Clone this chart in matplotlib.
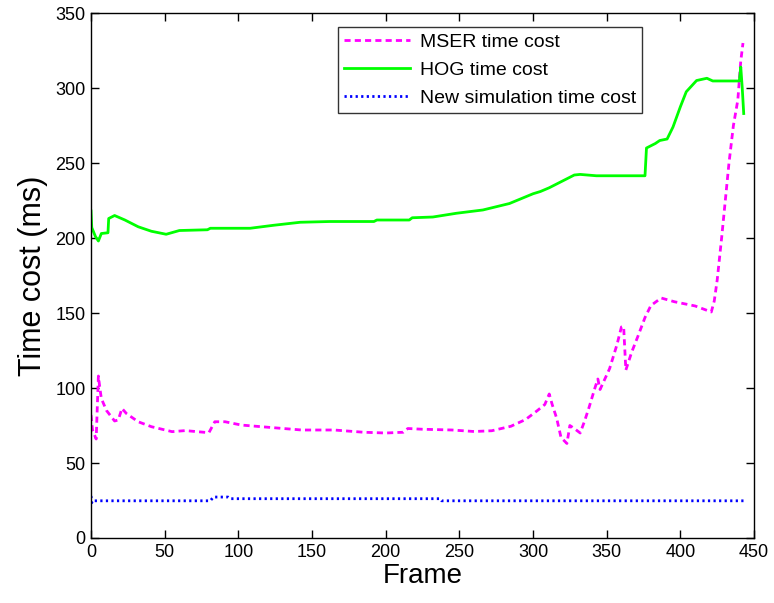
import matplotlib
matplotlib.use("Agg")
import matplotlib.pyplot as plt

plt.rcParams['font.family'] = ['Liberation Sans', 'DejaVu Sans']

# MSER detection time per frame (ms)
mser_x = [0, 1, 3.5, 5, 6, 7, 10.5, 16, 18.5, 21, 24, 32, 41, 55, 64, 80, 84, 91, 102,
          123, 143, 165, 185, 200, 212, 215, 225, 245, 260, 272, 285, 295, 303, 308,
          311, 313, 316, 319, 323, 325, 328, 332, 335, 338, 342, 344, 345.5, 352, 357,
          360, 361.5, 363, 365, 367, 371, 376, 380, 387, 396, 410, 421, 423, 425, 428,
          433, 436, 439, 441, 442.5]
mser_y = [82, 72, 66, 108, 100, 93, 85, 78, 78.7, 86.4, 83, 77.5, 74.2, 70.9, 71.6, 70.2,
          77.5, 77.5, 75.3, 73.6, 72, 72, 70.5, 70, 70.5, 73, 72.5, 72, 71, 71.5, 74.5,
          79, 85, 89, 96, 89, 80, 67, 63, 75, 73, 70, 78, 87, 100, 106, 99, 113, 129,
          140.7, 141, 112, 118, 124, 134, 147, 155, 160, 157.5, 154.7, 150.7, 158, 172,
          200, 250, 275, 292, 318, 330]

# HOG detection time per frame (ms)
hog_x = [0, 0.5, 3, 5, 7, 11.5, 12, 16, 23, 32, 41, 51, 60, 79, 81, 108, 124, 142, 162,
         192, 194, 216, 218, 232, 248, 266, 284, 300, 305, 311, 320, 328, 332, 343, 376,
         377, 383, 386, 391, 395, 400, 404, 411, 418, 422, 440, 441, 442, 443]
hog_y = [218, 207, 201, 198, 203, 203.5, 213, 215, 212, 207.5, 204.5, 202.5, 205, 205.5,
         206.5, 206.5, 208.5, 210.5, 211, 211, 212, 212, 213.5, 214, 216.5, 218.7, 223,
         229.5, 231, 233.5, 238, 242, 242.4, 241.5, 241.5, 260, 263, 265, 266, 274,
         287.5, 297.5, 305, 306.5, 304.7, 304.7, 314, 300, 283]

# New simulation time per frame (ms)
new_x = [0, 0.5, 1, 81, 83, 93, 94.5, 237, 238, 443.5]
new_y = [28, 23.5, 24.8, 24.8, 27.3, 27.3, 26.2, 26.2, 24.8, 24.8]

x_ticks = [0, 50, 100, 150, 200, 250, 300, 350, 400, 450]
y_ticks = [0, 50, 100, 150, 200, 250, 300, 350]

fig = plt.figure(figsize=(7.74, 6.03), dpi=100)
ax = fig.add_axes([0.1176, 0.1078, 0.8566, 0.8706])

ax.plot(mser_x, mser_y, color='#ff00ff', linestyle=(0, (2.2, 1.5)), linewidth=2.0,
        label='MSER time cost')
ax.plot(hog_x, hog_y, color='#00ff00', linestyle='-', linewidth=2.0,
        label='HOG time cost')
ax.plot(new_x, new_y, color='#0000ff', linestyle=(0, (0.8, 1.2)), linewidth=2.0,
        label='New simulation time cost')

ax.set_xlim(0, 450)
ax.set_ylim(0, 350)
ax.set_xticks(x_ticks)
ax.set_yticks(y_ticks)
ax.tick_params(direction='in', length=6, width=1, top=True, right=True,
               labelsize=13, pad=4)
for s in ax.spines.values():
    s.set_linewidth(1.0)

ax.set_xlabel('Frame', fontsize=20, labelpad=2)
ax.set_ylabel('Time cost (ms)', fontsize=22, labelpad=5)

leg = ax.legend(loc='upper left', bbox_to_anchor=(0.3725, 0.973), borderaxespad=0,
                fontsize=14, frameon=True, fancybox=False, edgecolor='black',
                handlelength=3.4, handletextpad=0.5, labelspacing=0.55,
                borderpad=0.3)
leg.get_frame().set_linewidth(1.0)

fig.savefig('out.png', dpi=100, facecolor='white')
